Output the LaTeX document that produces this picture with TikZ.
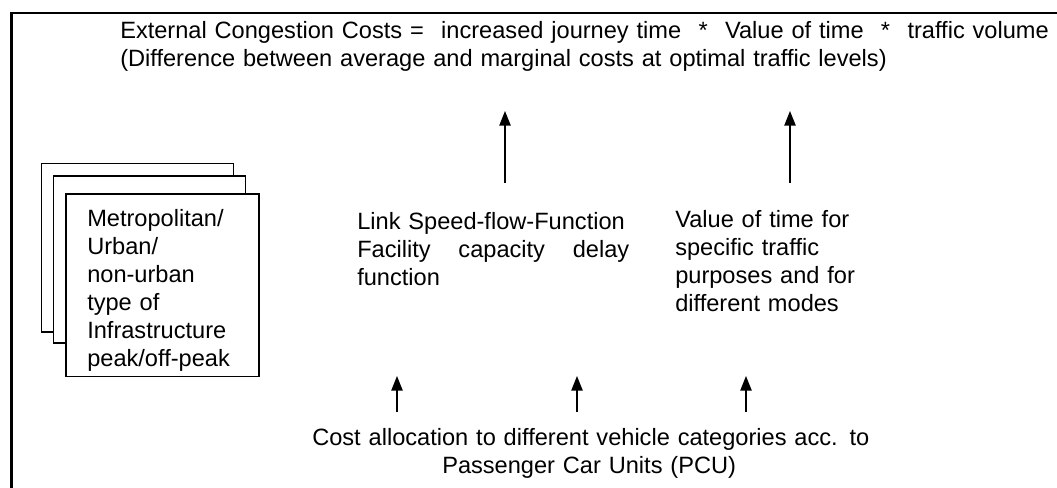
\documentclass[tikz,border=0pt]{standalone}
\usepackage{fontspec}
\setmainfont{Liberation Sans}
\usetikzlibrary{arrows.meta}
\begin{document}
\begin{tikzpicture}[x=0.75pt,y=-0.75pt,
  txt/.style={inner sep=0pt,anchor=base west,align=left,font=\fontsize{17.7pt}{21pt}\selectfont},
  stackbox/.style={draw,line width=1.4pt,fill=white},
  arr/.style={line width=1.1pt,-{Triangle[width=8.5pt,length=11pt]}},
  frame/.style={line width=2pt}]
\useasboundingbox (0,0) rectangle (1057,488);
% outer frame (cut at right and bottom)
\draw[frame] (1062,13) -- (11.5,13) -- (11.5,493);
% title
\node[txt,text width=950*0.75pt] (title) at (120,39)
  {External Congestion Costs =\hspace{13pt}increased journey time\hspace{13pt}*\hspace{13pt}Value of time\hspace{13pt}*\hspace{13pt}traffic volume\\
   (Difference between average and marginal costs at optimal traffic levels)};
% stacked boxes
\draw[stackbox] (41.5,163.5) rectangle (233.5,332);
\draw[stackbox] (53.5,176) rectangle (245.5,343);
\node[stackbox,minimum width=193*0.75pt,minimum height=182*0.75pt,anchor=north west,inner sep=0pt] (front) at (65,193.5) {};
\begin{scope}
\clip ([shift={(1,-1)}]front.south west) rectangle ([shift={(-1,1)}]front.north east);
\node[txt,text width=170*0.75pt] (infra) at (87,227)
  {Metropolitan/\\Urban/\\non-urban\\type of\\Infrastructure\\peak/off-peak};
\end{scope}
% middle texts
\node[txt,text width=272*0.75pt] (link) at (357,230)
  {Link Speed-flow-Function\\Facility\hfill capacity\hfill delay\\function};
\node[txt,text width=220*0.75pt] (vot) at (675,228)
  {Value of time for\\specific traffic\\purposes and for\\different modes};
% bottom text
\node[txt,text width=600*0.75pt] (pcu) at (312,445)
  {Cost allocation to different vehicle categories acc. to\\\hspace*{97.5pt}Passenger Car Units (PCU)};
% arrows
\coordinate (a1s) at (505,183); \coordinate (a1e) at (505,111);
\coordinate (a2s) at (790,183); \coordinate (a2e) at (790,111);
\coordinate (b1s) at (397,412); \coordinate (b1e) at (397,376);
\coordinate (b2s) at (577,412); \coordinate (b2e) at (577,376);
\coordinate (b3s) at (746,412); \coordinate (b3e) at (746,376);
\draw[arr] (a1s) -- (a1e);
\draw[arr] (a2s) -- (a2e);
\draw[arr] (b1s) -- (b1e);
\draw[arr] (b2s) -- (b2e);
\draw[arr] (b3s) -- (b3e);
\end{tikzpicture}
\end{document}
